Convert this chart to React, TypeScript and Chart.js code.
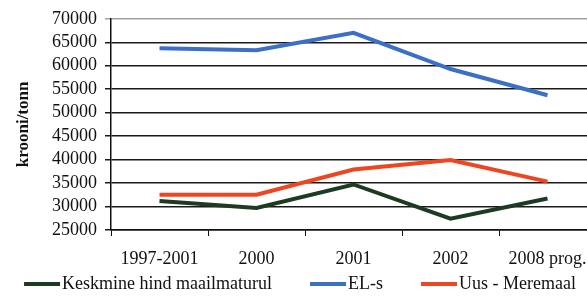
import React, { useEffect, useRef } from "react";
import { Chart, registerables } from "chart.js";

Chart.register(...registerables);

const categories = ["1997-2001", "2000", "2001", "2002", "2008 prog."];
const worldPrice = [31200, 29700, 34700, 27400, 31700];
const euPrice = [63700, 63300, 67000, 59300, 53700];
const newZealand = [32500, 32500, 37900, 39900, 35300];
const seriesNames = ["Keskmine hind maailmaturul", "EL-s", "Uus - Meremaal"];
const yTitle = "krooni/tonn";

const FONT = "Liberation Serif";
const COLORS = ["#1d3a22", "#3b70c6", "#ee4620"];

export default function App() {
  const ref = useRef<HTMLCanvasElement | null>(null);

  useEffect(() => {
    document.body.style.margin = "0";
    document.body.style.overflow = "hidden";
    const canvas = ref.current!;
    const legendPlugin = {
      id: "customLegend",
      afterDraw(chart: any) {
        const ctx = chart.ctx;
        ctx.save();
        ctx.font = `18px "${FONT}"`;
        const lineW = 36;
        const gapText = 2;
        const gapItem = 38;
        const widths = chart.data.datasets.map((d: any) => ctx.measureText(d.label).width);
        const total =
          widths.reduce((a: number, b: number) => a + b, 0) +
          widths.length * (lineW + gapText) +
          (widths.length - 1) * gapItem;
        let x = 300 - total / 2;
        const y = 284;
        chart.data.datasets.forEach((d: any, i: number) => {
          ctx.fillStyle = d.borderColor;
          ctx.fillRect(x, y - 2, lineW, 4);
          x += lineW + gapText;
          ctx.fillStyle = "#111";
          ctx.textBaseline = "middle";
          ctx.textAlign = "left";
          ctx.fillText(d.label, x, y);
          x += widths[i] + gapItem;
        });
        ctx.restore();
      },
    };

    const chart = new Chart(canvas, {
      type: "line",
      data: {
        labels: categories,
        datasets: [
          { label: seriesNames[0], data: worldPrice, borderColor: COLORS[0], backgroundColor: COLORS[0] },
          { label: seriesNames[1], data: euPrice, borderColor: COLORS[1], backgroundColor: COLORS[1] },
          { label: seriesNames[2], data: newZealand, borderColor: COLORS[2], backgroundColor: COLORS[2] },
        ].map((d) => ({ ...d, borderWidth: 4, pointRadius: 0, tension: 0, fill: false })),
      },
      options: {
        responsive: false,
        animation: false,
        devicePixelRatio: 1,
        layout: { padding: { top: 18, right: 4, bottom: 0, left: 0 } },
        plugins: {
          legend: { display: false },
          tooltip: { enabled: false },
        },
        scales: {
          x: {
            offset: true,
            grid: {
              offset: true,
              drawOnChartArea: false,
              drawTicks: true,
              tickLength: 6,
              color: "#111",
            },
            border: { display: true, color: "#111", width: 1.5 },
            ticks: {
              color: "#111",
              font: { family: FONT, size: 18 },
              padding: 12,
              maxRotation: 0,
              autoSkip: false,
            },
            afterFit(scale: any) {
              scale.height = 69;
            },
          },
          y: {
            min: 25000,
            max: 70000,
            ticks: {
              stepSize: 5000,
              autoSkip: false,
              color: "#111",
              font: { family: FONT, size: 18 },
              padding: 8,
              callback: (v: any) => String(v),
            },
            grid: {
              color: (ctx: any) => (ctx.tick && ctx.tick.value === 70000 ? "#a0a0a0" : "#1a1a1a"),
              lineWidth: 1.5,
              tickLength: 6,
            },
            border: { display: true, color: "#111", width: 1.5 },
            title: {
              display: true,
              text: yTitle,
              color: "#111",
              font: { family: FONT, size: 17, weight: "bold" },
              padding: { top: 13, bottom: 0 },
            },
            afterFit(scale: any) {
              scale.width = 111;
            },
          },
        },
      },
      plugins: [legendPlugin],
    } as any);
    return () => chart.destroy();
  }, []);

  return (
    <div style={{ width: 587, height: 299, overflow: "hidden", background: "#fff" }}>
      <canvas ref={ref} width={600} height={299} />
    </div>
  );
}
